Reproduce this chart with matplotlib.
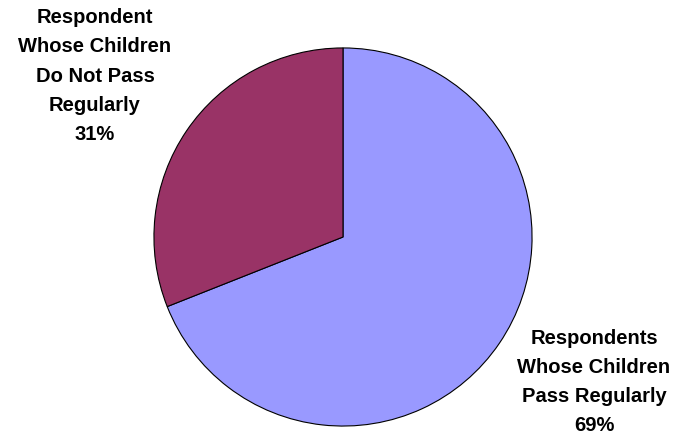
import matplotlib
matplotlib.use("Agg")
import matplotlib.pyplot as plt

categories = ["Respondents\nWhose Children\nPass Regularly",
              "Respondent\nWhose Children\nDo Not Pass\nRegularly"]
values = [69, 31]
colors = ["#9999FF", "#993366"]

W, H = 679, 436
fig = plt.figure(figsize=(W / 100, H / 100), dpi=100)
cx, cy, r = 343, 237, 190
ax = fig.add_axes([(cx - r) / W, (H - cy - r) / H, 2 * r / W, 2 * r / H])
ax.pie(values, colors=colors, startangle=90, counterclock=False,
       wedgeprops=dict(edgecolor="black", linewidth=0.8), radius=1)
ax.set_xlim(-1.005, 1.005)
ax.set_ylim(-1.005, 1.005)
ax.set_aspect("equal")
ax.axis("off")

label_pos = [(594, 382), (95, 76)]
for cat, v, (x, y) in zip(categories, values, label_pos):
    fig.text(x / W, 1 - y / H, f"{cat}\n{v}%", ha="center", va="center",
             fontsize=14.5, fontweight="bold", family="Liberation Sans",
             linespacing=1.68)

fig.savefig("out.png", dpi=100, facecolor="white")
